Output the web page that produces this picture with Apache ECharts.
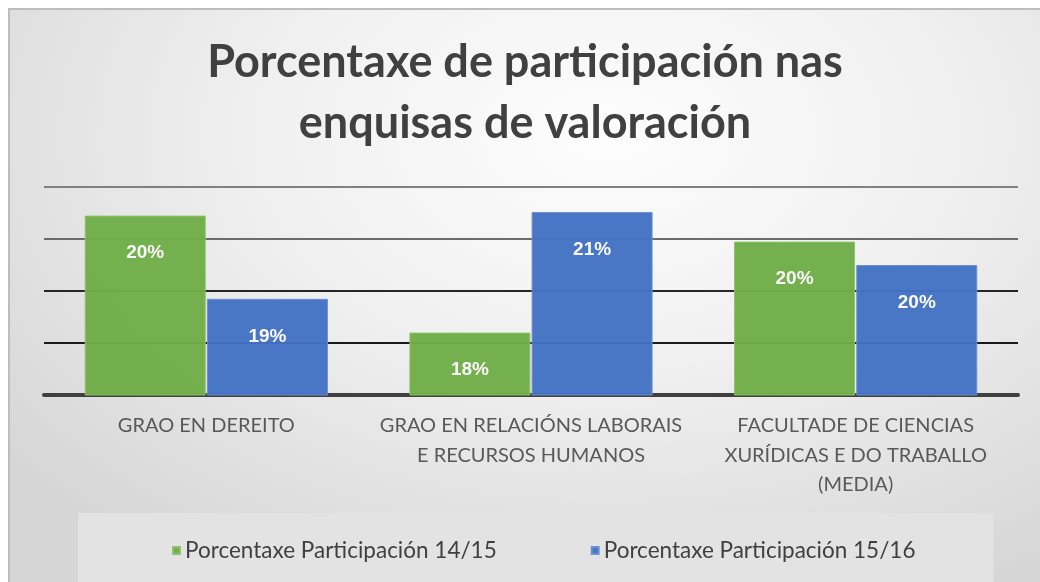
<!DOCTYPE html>
<html>
<head>
<meta charset="utf-8">
<script src="https://cdn.jsdelivr.net/npm/echarts@6/dist/echarts.min.js"></script>
<style>
  html, body { margin: 0; padding: 0; background: #fff; }
  #chart {
    position: absolute; left: 8px; top: 8px;
    width: 1032px; height: 574px;
    box-sizing: border-box;
    border-left: 2px solid #bdbdbd;
    border-top: 2px solid #bdbdbd;
    background: radial-gradient(ellipse 75% 90% at 58% 22%, #fdfdfd 0%, #f0f0f0 45%, #d6d6d6 100%);
  }
</style>
</head>
<body>
<div id="chart"></div>
<script>
// categorías e valores (porcentaxes)
const categories = [
  'GRAO EN DEREITO',
  'GRAO EN RELACIÓNS LABORAIS\nE RECURSOS HUMANOS',
  'FACULTADE DE CIENCIAS\nXURÍDICAS E DO TRABALLO\n(MEDIA)'
]
const seriesNames = ['Porcentaxe Participación 14/15', 'Porcentaxe Participación 15/16']
const part1415 = [20.45, 18.2, 19.95]
const part1516 = [18.85, 20.52, 19.5]

const chart = echarts.init(document.getElementById('chart'))

const barLabel = {
  show: true,
  position: 'insideTop',
  distance: 28,
  color: '#fff',
  fontFamily: 'Liberation Sans, Arial, sans-serif',
  fontWeight: 'bold',
  fontSize: 19,
  formatter: p => Math.round(p.value) + '%'
}

chart.setOption({
  animation: false,
  title: {
    text: 'Porcentaxe de participación nas\nenquisas de valoración',
    left: 'center',
    top: 17,
    textStyle: {
      fontFamily: 'Lato, sans-serif',
      fontWeight: 'bold',
      fontSize: 45,
      lineHeight: 61,
      color: '#404040'
    }
  },
  legend: {
    left: 68,
    top: 503,
    padding: [26, 78, 40, 94],
    backgroundColor: '#e3e3e3',
    icon: 'rect',
    itemWidth: 7,
    itemHeight: 7,
    itemGap: 94,
    textStyle: { fontFamily: 'Lato, sans-serif', fontSize: 22.5, color: '#404040' },
    data: seriesNames
  },
  grid: { left: 34, right: 22, top: 177, bottom: 187 },
  xAxis: {
    type: 'category',
    data: categories,
    axisTick: { show: false },
    axisLine: { lineStyle: { color: '#404040', width: 4 } },
    axisLabel: {
      margin: 16,
      fontFamily: 'Lato, sans-serif',
      fontSize: 20,
      lineHeight: 29.5,
      color: '#595959',
      interval: 0
    }
  },
  yAxis: {
    type: 'value',
    min: 17,
    max: 21,
    interval: 1,
    axisLabel: { show: false },
    axisLine: { show: false },
    axisTick: { show: false },
    splitLine: {
      lineStyle: { color: ['#404040', '#1a1a1a', '#262626', '#6b6b6b', '#808080'], width: 2 }
    }
  },
  series: [
    {
      name: seriesNames[0],
      type: 'bar',
      data: part1415,
      barWidth: 121,
      barGap: '1%',
      itemStyle: { color: '#70ad47', borderColor: '#8cc36a', borderWidth: 1, opacity: 0.97 },
      label: barLabel
    },
    {
      name: seriesNames[1],
      type: 'bar',
      data: part1516,
      barWidth: 121,
      itemStyle: { color: '#4472c4', borderColor: '#6d8fd0', borderWidth: 1, opacity: 0.97 },
      label: barLabel
    }
  ]
})
</script>
</body>
</html>
